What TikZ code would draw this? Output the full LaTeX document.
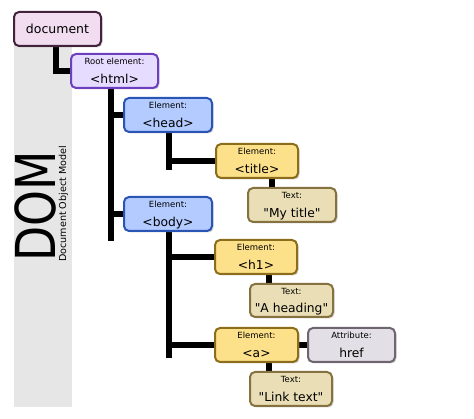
\documentclass[tikz,border=0pt]{standalone}
\usepackage{fontspec}
\setmainfont[Ligatures=TeXOff]{DejaVu Sans}
\usetikzlibrary{shadows}
\pgfdeclarelayer{bandlayer}
\pgfdeclarelayer{connlayer}
\pgfsetlayers{bandlayer,connlayer,main}
\definecolor{docfill}{HTML}{F2DCEF}
\definecolor{docdraw}{HTML}{43233C}
\definecolor{htmlfill}{HTML}{E6DCFF}
\definecolor{htmldraw}{HTML}{6B3FBD}
\definecolor{bluefill}{HTML}{B3CBFF}
\definecolor{bluedraw}{HTML}{2B55B5}
\definecolor{yelfill}{HTML}{FDE18A}
\definecolor{yeldraw}{HTML}{8C6D1A}
\definecolor{tanfill}{HTML}{E9DEB6}
\definecolor{tandraw}{HTML}{857240}
\definecolor{attrfill}{HTML}{E3DFE6}
\definecolor{attrdraw}{HTML}{6E6570}
\definecolor{band}{HTML}{E6E6E6}
\tikzset{
  box/.style={rectangle, rounded corners=5pt, line width=2pt, inner sep=0pt,
    minimum height=34pt, drop shadow={shadow xshift=1.5pt, shadow yshift=-1.5pt, opacity=0.35}},
  docbox/.style={box, fill=docfill, draw=docdraw},
  htmlbox/.style={box, fill=htmlfill, draw=htmldraw},
  bluebox/.style={box, fill=bluefill, draw=bluedraw},
  yelbox/.style={box, fill=yelfill, draw=yeldraw},
  tanbox/.style={box, fill=tanfill, draw=tandraw},
  attrbox/.style={box, fill=attrfill, draw=attrdraw},
  lab/.style={font=\fontsize{8.5}{9}\selectfont, inner sep=0pt, anchor=base},
  main/.style={font=\fontsize{12.3}{14}\selectfont, inner sep=0pt, anchor=base},
  conn/.style={line width=5.5pt, black},
}
\begin{document}
\begin{tikzpicture}[x=1pt,y=-1pt]
\useasboundingbox (0,0) rectangle (474,419);
\begin{pgfonlayer}{bandlayer}
\fill[band] (14,20) rectangle (72,407);
\end{pgfonlayer}
\node[anchor=base west, rotate=90, inner sep=0pt, font=\fontsize{55}{60}\selectfont] (dom) at (55,262) {\scalebox{0.83}[1]{DOM}};
\node[anchor=base west, rotate=90, inner sep=0pt, font=\fontsize{9.6}{11}\selectfont] (dommodel) at (66,262) {Document Object Model};
% trunk end points
\coordinate (htmlend) at (111,241);
\coordinate (headend) at (169,170);
\coordinate (bodyend) at (169,358);
% boxes
\node[docbox, minimum width=87pt, font=\fontsize{12.5}{14}\selectfont] (doc) at (57.5,29) {document};
\node[htmlbox, minimum width=87pt] (html) at (114.5,71) {};
\node[bluebox, minimum width=88pt] (head) at (168,115) {};
\node[bluebox, minimum width=88pt] (body) at (168,214) {};
\node[yelbox, minimum width=82pt] (title) at (257,161) {};
\node[tanbox, minimum width=88pt] (mytitle) at (292,205) {};
\node[yelbox, minimum width=82pt] (h1) at (256,257) {};
\node[tanbox, minimum width=83pt, minimum height=33pt] (heading) at (291.5,300.5) {};
\node[yelbox, minimum width=83pt] (a) at (256.5,345) {};
\node[attrbox, minimum width=87pt] (href) at (351.5,345) {};
\node[tanbox, minimum width=82pt] (link) at (291,389) {};
% labels
\node[lab] (htmll) at ([yshift=-12pt]html.north) {Root element:};
\node[main] (htmlm) at ([yshift=-31pt]html.north) {<html>};
\node[lab] (headl) at ([yshift=-12pt]head.north) {Element:};
\node[main] (headm) at ([yshift=-31pt]head.north) {<head>};
\node[lab] (bodyl) at ([yshift=-12pt]body.north) {Element:};
\node[main] (bodym) at ([yshift=-31pt]body.north) {<body>};
\node[lab] (titlel) at ([yshift=-12pt]title.north) {Element:};
\node[main] (titlem) at ([yshift=-31pt]title.north) {<title>};
\node[lab] (mytitlel) at ([yshift=-12pt]mytitle.north) {Text:};
\node[main] (mytitlem) at ([yshift=-31pt]mytitle.north) {"My title"};
\node[lab] (h1l) at ([yshift=-12pt]h1.north) {Element:};
\node[main] (h1m) at ([yshift=-31pt]h1.north) {<h1>};
\node[lab] (headingl) at ([yshift=-12pt]heading.north) {Text:};
\node[main] (headingm) at ([yshift=-30pt]heading.north) {"A heading"};
\node[lab] (al) at ([yshift=-12pt]a.north) {Element:};
\node[main] (am) at ([yshift=-31pt]a.north) {<a>};
\node[lab] (hrefl) at ([yshift=-12pt]href.north) {Attribute:};
\node[main] (hrefm) at ([yshift=-31pt]href.north) {href};
\node[lab] (linkl) at ([yshift=-12pt]link.north) {Text:};
\node[main] (linkm) at ([yshift=-31pt]link.north) {"Link text"};
% connectors
\begin{pgfonlayer}{connlayer}
\draw[conn] ([xshift=-1.5pt]doc.south) |- (html.west);
\draw[conn] (html.south -| htmlend) -- (htmlend);
\draw[conn] (head.west -| htmlend) -- (head.west);
\draw[conn] (body.west -| htmlend) -- (body.west);
\draw[conn] (head.south -| headend) -- (headend);
\draw[conn] (title.west -| headend) -- (title.west);
\draw[conn] (body.south -| bodyend) -- (bodyend);
\draw[conn] (h1.west -| bodyend) -- (h1.west);
\draw[conn] (a.west -| bodyend) -- (a.west);
\draw[conn] ([xshift=15pt]title.south) -- ([xshift=15pt]title.south |- mytitle.north);
\draw[conn] ([xshift=13pt]h1.south) -- ([xshift=13pt]h1.south |- heading.north);
\draw[conn] ([xshift=12.5pt]a.south) -- ([xshift=12.5pt]a.south |- link.north);
\draw[conn] (a.east) -- (href.west);
\end{pgfonlayer}
\end{tikzpicture}
\end{document}
